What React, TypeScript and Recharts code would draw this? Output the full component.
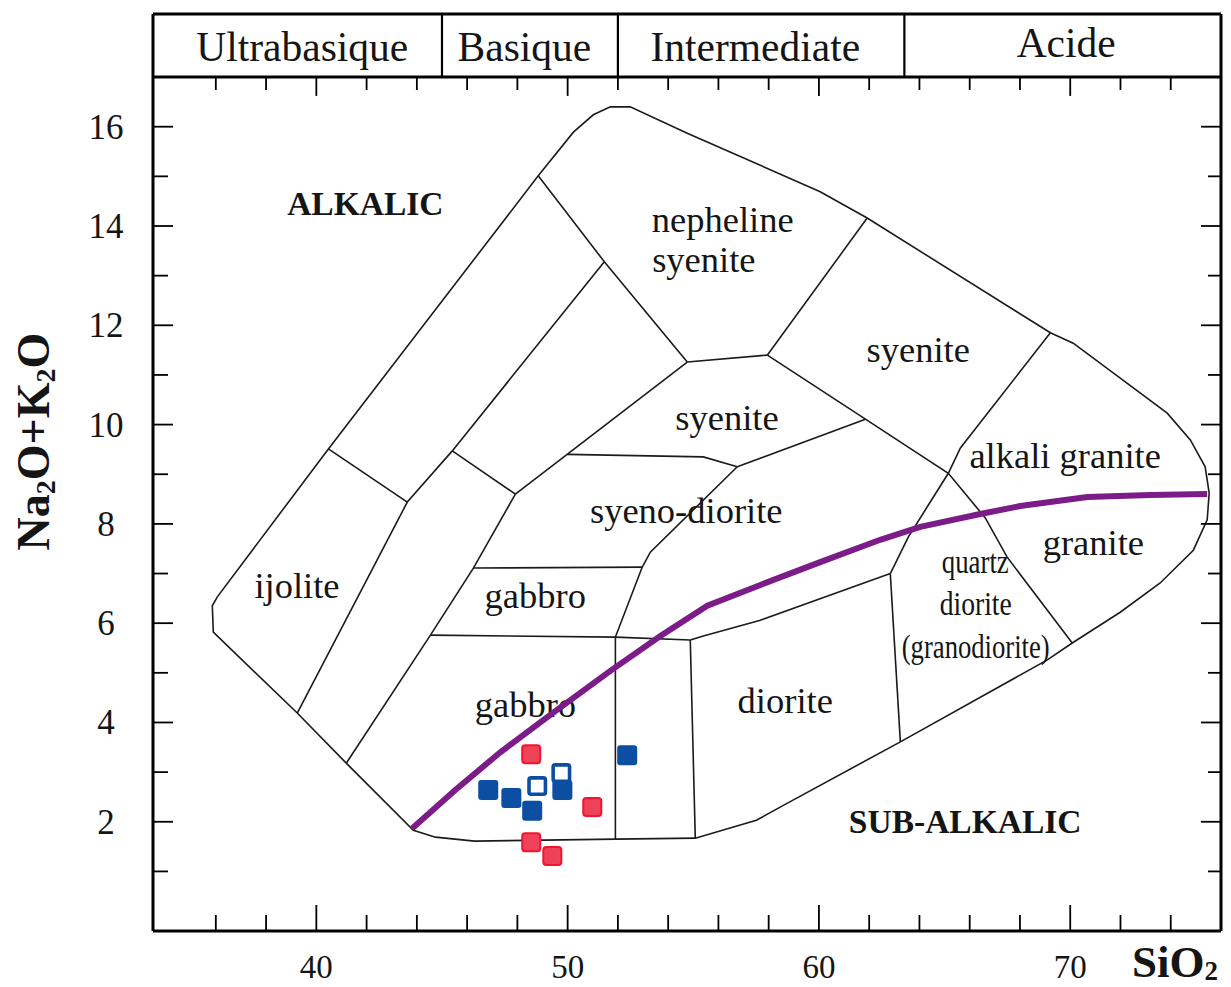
import React from "react";
import { ReferenceLine, Scatter, ScatterChart, XAxis, YAxis } from "recharts";

const serif = '"Liberation Serif", "Times New Roman", Times, serif';
const ink = "#1b1b1b";

type Pt = [number, number];
const pts = (list: Pt[]) => list.map(([x, y]) => ({ x, y }));

// axes
const xDomain: [number, number] = [33.5, 76];
const yDomain: [number, number] = [-0.2, 18.27];
const frameTop = 17;
const xTicks = [36, 38, 40, 42, 44, 46, 48, 50, 52, 54, 56, 58, 60, 62, 64, 66, 68, 70, 72, 74];
const xLabelTicks = [40, 50, 60, 70];
const yTicks = [1, 2, 3, 4, 5, 6, 7, 8, 9, 10, 11, 12, 13, 14, 15, 16];
const yLabelTicks = [2, 4, 6, 8, 10, 12, 14, 16];

// silica classes band on top
const bandEdges = [45, 52, 63.4];
const bandLabels = [
  { x: 39.44, y: 17.32, text: "Ultrabasique" },
  { x: 48.28, y: 17.32, text: "Basique" },
  { x: 57.47, y: 17.32, text: "Intermediate" },
  { x: 69.84, y: 17.4, text: "Acide" },
];

// field boundaries (SiO2, Na2O+K2O)
const outline: Pt[] = [
  [48.83, 15.01], [50.23, 15.89], [51.02, 16.24], [51.7, 16.4], [52.49, 16.4], [54.76, 15.87],
  [60.05, 14.69], [61.92, 14.16], [69.21, 11.85], [70.12, 11.64], [73.86, 10.23], [74.78, 9.69],
  [75.37, 9.15], [75.53, 8.62], [75.45, 8.08], [74.9, 7.47], [73.58, 6.81], [71.99, 6.22],
  [70.08, 5.6], [69.09, 5.26], [63.24, 3.61], [58.62, 2.34], [57.51, 2.03], [55.08, 1.67],
  [51.9, 1.65], [46.29, 1.61], [44.74, 1.69], [43.86, 1.83], [41.19, 3.18], [39.24, 4.19],
  [35.9, 5.82], [35.86, 6.35], [36.06, 6.53], [40.48, 9.51], [48.83, 15.01],
];
const boundaries: Pt[][] = [
  [[40.48, 9.51], [43.62, 8.44]],
  [[51.46, 13.28], [45.41, 9.47], [43.62, 8.44], [39.24, 4.19]],
  [[45.41, 9.47], [47.92, 8.6]],
  [[47.92, 8.6], [54.76, 11.26]],
  [[47.92, 8.6], [46.25, 7.11], [44.54, 5.76], [41.19, 3.18]],
  [[46.25, 7.11], [52.97, 7.13]],
  [[44.54, 5.76], [51.9, 5.72], [54.88, 5.66]],
  [[52.97, 7.13], [51.9, 5.72], [51.9, 1.65]],
  [[52.97, 7.13], [53.29, 7.43], [56.75, 9.15]],
  [[49.99, 9.4], [55.4, 9.35], [56.75, 9.15]],
  [[56.75, 9.15], [61.85, 10.11]],
  [[57.95, 11.4], [61.85, 10.11], [65.15, 9.02], [66.62, 8.12], [67.49, 7.33], [70.08, 5.6]],
  [[69.21, 11.85], [65.63, 9.53], [65.15, 9.02], [64.43, 8.44], [63.56, 7.74], [62.84, 7.0]],
  [[62.84, 7.0], [63.24, 3.61]],
  [[54.88, 5.66], [55.08, 1.67]],
  [[54.88, 5.66], [55.4, 5.74], [57.67, 6.06], [62.84, 7.0]],
  [[61.92, 14.16], [57.95, 11.4]],
  [[54.76, 11.26], [57.95, 11.4]],
  [[48.83, 15.01], [51.46, 13.28], [54.76, 11.26]],
];

// alkalic / sub-alkalic divide
const divide: Pt[] = [
  [43.82, 1.87], [45.53, 2.64], [47.32, 3.4], [49.51, 4.23], [51.7, 5.04], [53.69, 5.74],
  [55.56, 6.35], [57.67, 6.77], [60.05, 7.23], [62.44, 7.68], [64.03, 7.94], [66.42, 8.2],
  [68.01, 8.36], [70.68, 8.54], [73.19, 8.58], [75.45, 8.6],
];

// samples
const redSamples: Pt[] = [[48.55, 3.36], [50.98, 2.3], [48.55, 1.59], [49.39, 1.31]];
const blueSamples: Pt[] = [[46.84, 2.64], [47.76, 2.48], [48.59, 2.22], [49.79, 2.64], [52.37, 3.34]];
const openSamples: Pt[] = [[48.79, 2.72], [49.75, 2.98]];

// field names
const rockLabels = [
  { x: 56.17, y: 13.88, text: "nepheline" },
  { x: 55.42, y: 13.07, text: "syenite" },
  { x: 63.95, y: 11.26, text: "syenite" },
  { x: 56.34, y: 9.89, text: "syenite" },
  { x: 69.8, y: 9.13, text: "alkali granite" },
  { x: 54.72, y: 8.01, text: "syeno-diorite" },
  { x: 48.71, y: 6.3, text: "gabbro" },
  { x: 48.32, y: 4.12, text: "gabbro" },
  { x: 39.23, y: 6.5, text: "ijolite" },
  { x: 58.66, y: 4.19, text: "diorite" },
  { x: 70.92, y: 7.37, text: "granite" },
];
const narrowLabels = [
  { x: 66.22, y: 7.01, text: "quartz" },
  { x: 66.24, y: 6.16, text: "diorite" },
  { x: 66.24, y: 5.29, text: "(granodiorite)" },
];
const seriesLabels = [
  { x: 41.95, y: 14.22, text: "ALKALIC" },
  { x: 65.82, y: 1.77, text: "SUB-ALKALIC" },
];

const NoDot = () => <g />;

const textShape = (size: number, weight = "normal") => (p: any) => (
  <text x={p.cx} y={p.cy} textAnchor="middle" fontSize={size} fontWeight={weight} fontFamily={serif} fill="#151515">
    {p.payload.text}
  </text>
);

const narrowWidth: Record<string, number> = { quartz: 67, diorite: 72, "(granodiorite)": 148 };
const narrowShape = (p: any) => (
  <text
    x={p.cx}
    y={p.cy}
    textAnchor="middle"
    fontSize={34}
    fontFamily={serif}
    fill="#151515"
    textLength={narrowWidth[p.payload.text]}
    lengthAdjust="spacingAndGlyphs"
  >
    {p.payload.text}
  </text>
);

const LeftTick = (p: any) => {
  const v = p.payload.value;
  const major = yLabelTicks.includes(v);
  return (
    <g>
      <line x1={p.x} x2={p.x + (major ? 20 : 15)} y1={p.y} y2={p.y} stroke="#000" strokeWidth={1.8} />
      {major && (
        <text x={p.x - 47} y={p.y + 12} textAnchor="middle" fontSize={35} fontFamily={serif} fill="#151515">
          {v}
        </text>
      )}
    </g>
  );
};

const RightTick = (p: any) => {
  const major = yLabelTicks.includes(p.payload.value);
  return <line x1={p.x} x2={p.x - (major ? 20 : 13)} y1={p.y} y2={p.y} stroke="#000" strokeWidth={1.8} />;
};

const BottomTick = (p: any) => {
  const v = p.payload.value;
  const major = xLabelTicks.includes(v);
  return (
    <g>
      <line x1={p.x} x2={p.x} y1={p.y} y2={p.y - (major ? 26 : 16)} stroke="#000" strokeWidth={1.8} />
      {major && (
        <text x={p.x} y={p.y + 47} textAnchor="middle" fontSize={33} fontFamily={serif} fill="#151515">
          {v}
        </text>
      )}
    </g>
  );
};

const YTitle = (props: any) => {
  const vb = props.viewBox;
  const bx = vb.x + 41;
  const cy = vb.y + vb.height / 2 - 31;
  return (
    <text
      transform={`translate(${bx},${cy}) rotate(-90)`}
      textAnchor="middle"
      fontSize={46}
      fontWeight="bold"
      fontFamily={serif}
      fill="#151515"
    >
      Na
      <tspan fontSize={28} dy={6}>2</tspan>
      <tspan dy={-6}>O+K</tspan>
      <tspan fontSize={28} dy={6}>2</tspan>
      <tspan dy={-6}>O</tspan>
    </text>
  );
};

const XTitle = (props: any) => {
  const vb = props.viewBox;
  return (
    <text x={vb.x + vb.width - 89} y={vb.y + 46} fontSize={45} fontWeight="bold" fontFamily={serif} fill="#151515">
      SiO
      <tspan fontSize={27} dy={3}>2</tspan>
    </text>
  );
};

const frame = { stroke: "#000", strokeWidth: 3 };

export default function App() {
  return (
    <div style={{ width: 1223, height: 979 }}>
      <ScatterChart width={1223} height={979} margin={{ top: 5, right: 0, bottom: 0, left: 0 }}>
        <XAxis
          type="number"
          dataKey="x"
          domain={xDomain}
          allowDataOverflow
          ticks={xTicks}
          interval={0}
          tickSize={0}
          tickMargin={0}
          tickLine={false}
          axisLine={frame}
          tick={BottomTick}
          height={56}
          label={<XTitle />}
        />
        <XAxis
          xAxisId="top"
          orientation="top"
          type="number"
          dataKey="x"
          domain={xDomain}
          allowDataOverflow
          tick={false}
          tickLine={false}
          axisLine={frame}
          height={1}
        />
        <YAxis
          type="number"
          dataKey="y"
          domain={yDomain}
          allowDataOverflow
          ticks={yTicks}
          interval={0}
          tickSize={0}
          tickMargin={0}
          tickLine={false}
          axisLine={frame}
          tick={LeftTick}
          width={145}
          label={<YTitle />}
        />
        <YAxis
          yAxisId="r"
          orientation="right"
          type="number"
          dataKey="y"
          domain={yDomain}
          allowDataOverflow
          ticks={yTicks}
          interval={0}
          tickSize={0}
          tickMargin={0}
          tickLine={false}
          axisLine={frame}
          tick={RightTick}
          width={10}
        />

        <ReferenceLine y={frameTop} stroke="#000" strokeWidth={3} />
        {bandEdges.map((e) => (
          <ReferenceLine key={`band-${e}`} segment={[{ x: e, y: frameTop }, { x: e, y: yDomain[1] }]} stroke="#000" strokeWidth={2.2} />
        ))}
        {xTicks.map((t) => (
          <ReferenceLine
            key={`top-${t}`}
            segment={[{ x: t, y: frameTop }, { x: t, y: frameTop - (xLabelTicks.includes(t) ? 0.38 : 0.26) }]}
            stroke="#000"
            strokeWidth={1.8}
          />
        ))}

        <Scatter data={pts(outline)} line={{ stroke: ink, strokeWidth: 1.6 }} shape={NoDot} isAnimationActive={false} />
        {boundaries.map((b, i) => (
          <Scatter key={`b-${i}`} data={pts(b)} line={{ stroke: ink, strokeWidth: 1.6 }} shape={NoDot} isAnimationActive={false} />
        ))}

        <Scatter data={bandLabels} shape={textShape(41.5)} isAnimationActive={false} />
        <Scatter data={rockLabels} shape={textShape(36.5)} isAnimationActive={false} />
        <Scatter data={narrowLabels} shape={narrowShape} isAnimationActive={false} />
        <Scatter data={seriesLabels} shape={textShape(33.5, "bold")} isAnimationActive={false} />

        <Scatter data={pts(divide)} line={{ stroke: "#7b1c88", strokeWidth: 6 }} shape={NoDot} isAnimationActive={false} />

        <Scatter
          data={pts(blueSamples)}
          shape={(p: any) => <rect x={p.cx - 10} y={p.cy - 10} width={20} height={20} rx={3} fill="#0b4ea2" />}
          isAnimationActive={false}
        />
        <Scatter
          data={pts(openSamples)}
          shape={(p: any) => (
            <rect x={p.cx - 8.2} y={p.cy - 8.2} width={16.4} height={16.4} rx={2} fill="#fff" stroke="#0b4ea2" strokeWidth={3.6} />
          )}
          isAnimationActive={false}
        />
        <Scatter
          data={pts(redSamples)}
          shape={(p: any) => (
            <rect x={p.cx - 9} y={p.cy - 9} width={18} height={18} rx={3} fill="#ee4259" stroke="#f4142f" strokeWidth={2} />
          )}
          isAnimationActive={false}
        />
      </ScatterChart>
    </div>
  );
}
